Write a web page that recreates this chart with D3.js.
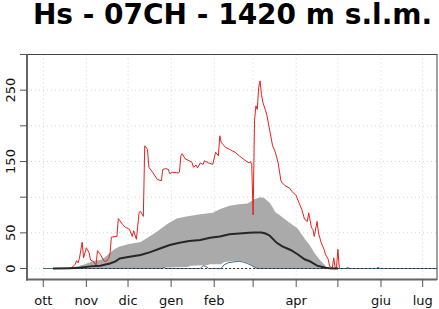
<!DOCTYPE html>
<html>
<head>
<meta charset="utf-8">
<script src="https://cdn.jsdelivr.net/npm/d3@7"></script>
<style>
    body { margin: 0; background: #fff; }
    text { font-family: "DejaVu Sans", sans-serif; }
</style>
</head>
<body>
<div id="chart"></div>
<script>
// --- Data (day = days since 1 October) ---
const monthLabels = ["ott", "nov", "dic", "gen", "feb", "", "apr", "", "giu", "lug"];
const yTicks = [0, 50, 100, 150, 200, 250, 300];
const yTickLabels = ["0", "50", "", "150", "", "250", ""];

// upper edge of the gray band
const bandUpper = [[7,0],[12,0.5],[19,1],[25,3],[30,6],[34,9],[37,11],[41,12],[44,15],[48,22],[52,28],[55,31],
    [61,34],[70,37],[75,43],[82,52],[89,62],[96,70],[103,73],[113,76],[122,78],[127,83],[134,88],[141,90],
    [147,91],[152,97],[156,100],[159,99],[163,92],[165,86],[167,79],[170,75],[172,72],[178,63],[183,56],
    [188,42],[192,32],[195,22],[199,12],[203,4],[205,0],[290,0]];
// lower edge of the gray band
const bandLower = [[7,0],[87,0],[88,1.5],[104,2],[106,4],[118,5],[120,6],[128,6],[130,9],[140,11],[144,10],
    [148,7],[151,3],[153,0],[290,0]];
// mean
const meanLine = [[7,0],[19,0.5],[26,1],[34,3],[41,4],[48,7],[52,10],[55,14],[61,16],[70,19],[77,23],[84,28],
    [91,33],[98,36],[105,38.5],[113,40],[120,43],[127,45],[134,48],[141,49],[148,50],[152,50.5],[157,50.5],
    [160,49],[163,46],[168,36],[172,31],[178,26],[183,20],[188,13],[192,10],[197,4],[201,2],[203,1],[206,0.3],
    [210,0],[212,0]];
// minimum
const minLine = [[0,0],[86,0],[87,1.5],[88,0],[113,0],[115,4],[117,3],[119,0],[128,0],[130,5],[133,8],
    [138,9.5],[141,10],[144,9],[147,7],[150,4],[152,2],[154,0],[290,0]];
// zero reference
const zeroLine = [[7,0],[290,0]];
// current season
const season = [[0,0],[8,0],[19,0],[21,2],[23,6],[24,11],[25,8],[26,14],[28,37],[29,15],[31,29],[33,22],[34,12],
    [36,10],[38,5],[39,25],[41,20],[43,13],[44,10],[46,11],[47,14],[48,20],[49,44],[53,45],[54,70],[57,62],
    [59,58],[62,55],[64,45],[65,53],[67,41],[69,79],[70,80],[72,73],[73,172],[75,167],[76,142],[79,134],
    [82,125],[85,123],[86,139],[88,140],[90,139],[91,133],[93,135],[97,134],[98,135],[99,158],[100,161],
    [102,154],[105,151],[107,149],[108,142],[110,145],[111,141],[113,148],[115,146],[116,151],[119,148],
    [122,146],[124,163],[126,158],[127,186],[128,177],[131,170],[134,167],[138,163],[141,158],[145,152],
    [148,148],[149,150],[150,146],[151,75],[152,207],[153,228],[154,223],[155,254],[156,263],[157,244],
    [158,233],[160,221],[161,214],[163,193],[165,172],[167,163],[169,148],[171,123],[172,120],[174,116],
    [177,113],[179,108],[182,102],[184,92],[186,83],[188,69],[190,66],[191,78],[193,57],[194,55],[195,45],
    [197,66],[198,50],[199,43],[200,36],[202,27],[203,20],[205,13],[206,3],[208,1],[209,15],[210,1],[211,1],
    [212,27],[213,1],[214,0],[218,0],[219,2],[220,0],[240,0],[241,2],[242,0],[272,0]];

const width = 439, height = 309;
const base = new Date(2022, 9, 1);
const toDate = d => new Date(base.getTime() + d * 864e5);

const svg = d3.select("#chart").append("svg")
    .attr("width", width)
    .attr("height", height);

// --- Scales ---
const x = d3.scaleTime()
    .domain([toDate(-11.7), toDate(283.3)])
    .range([27, 437]);
const y = d3.scaleLinear()
    .domain([-15.4, 300])
    .range([279.5, 54.5]);

const monthTicks = d3.timeMonth.range(base, new Date(2023, 6, 2));

svg.append("defs").append("clipPath").attr("id", "plot")
    .append("rect").attr("x", 27).attr("y", 54.5).attr("width", 410).attr("height", 225);

// --- Grid ---
const grid = svg.append("g").attr("stroke", "#d3d3d3").attr("stroke-dasharray", "1,3").attr("stroke-width", 1);
grid.selectAll(".gx").data(monthTicks).enter().append("line")
    .attr("x1", d => x(d)).attr("x2", d => x(d))
    .attr("y1", 54.5).attr("y2", 279.5);
grid.selectAll(".gy").data(yTicks).enter().append("line")
    .attr("x1", 27).attr("x2", 437)
    .attr("y1", d => y(d)).attr("y2", d => y(d));

const plot = svg.append("g").attr("clip-path", "url(#plot)");
const line = d3.line().x(d => x(toDate(d[0]))).y(d => y(d[1]));

// gray band: upper edge then lower edge backwards
plot.append("path")
    .attr("d", line(bandUpper.concat(bandLower.slice().reverse())) + "Z")
    .attr("fill", "#aaaaaa");

// current season (under the reference lines)
plot.append("path")
    .attr("d", line(season))
    .attr("fill", "none").attr("stroke", "#e3221f").attr("stroke-width", 1);

plot.append("path")
    .attr("d", line(minLine))
    .attr("fill", "none").attr("stroke", "#3f6f94").attr("stroke-width", 1);

plot.append("path")
    .attr("d", line(zeroLine))
    .attr("fill", "none").attr("stroke", "#333").attr("stroke-width", 1.2)
    .attr("stroke-dasharray", "2,2");

plot.append("path")
    .attr("d", line(meanLine))
    .attr("fill", "none").attr("stroke", "#262626").attr("stroke-width", 2);

// --- Box and axes ---
svg.append("rect")
    .attr("x", 27).attr("y", 54.5).attr("width", 410).attr("height", 225)
    .attr("fill", "none").attr("stroke", "#444").attr("stroke-width", 1);
svg.append("line").attr("x1", 27).attr("x2", 27).attr("y1", 54.5).attr("y2", 280.5)
    .attr("stroke", "#666").attr("stroke-width", 2);
svg.append("line").attr("x1", 26).attr("x2", 437).attr("y1", 279.5).attr("y2", 279.5)
    .attr("stroke", "#666").attr("stroke-width", 2);

const yAxis = svg.append("g");
yAxis.selectAll("line").data(yTicks).enter().append("line")
    .attr("x1", 20).attr("x2", 27)
    .attr("y1", d => y(d)).attr("y2", d => y(d))
    .attr("stroke", "#555").attr("stroke-width", 1);
yAxis.selectAll("text").data(yTicks).enter().append("text")
    .attr("transform", d => `translate(15,${y(d)}) rotate(-90)`)
    .attr("text-anchor", "middle")
    .attr("font-size", 13)
    .attr("fill", "#111")
    .text((d, i) => yTickLabels[i]);

const xAxis = svg.append("g");
xAxis.selectAll("line").data(monthTicks).enter().append("line")
    .attr("x1", d => x(d)).attr("x2", d => x(d))
    .attr("y1", 279.5).attr("y2", 287)
    .attr("stroke", "#555").attr("stroke-width", 1);
xAxis.selectAll("text").data(monthTicks).enter().append("text")
    .attr("x", d => x(d)).attr("y", 305)
    .attr("text-anchor", "middle")
    .attr("font-size", 13)
    .attr("fill", "#111")
    .text((d, i) => monthLabels[i]);

// --- Title ---
svg.append("text")
    .attr("x", 232.5).attr("y", 24)
    .attr("text-anchor", "middle")
    .attr("font-size", 28)
    .attr("font-weight", "bold")
    .text("Hs - 07CH - 1420 m s.l.m.");
</script>
</body>
</html>
